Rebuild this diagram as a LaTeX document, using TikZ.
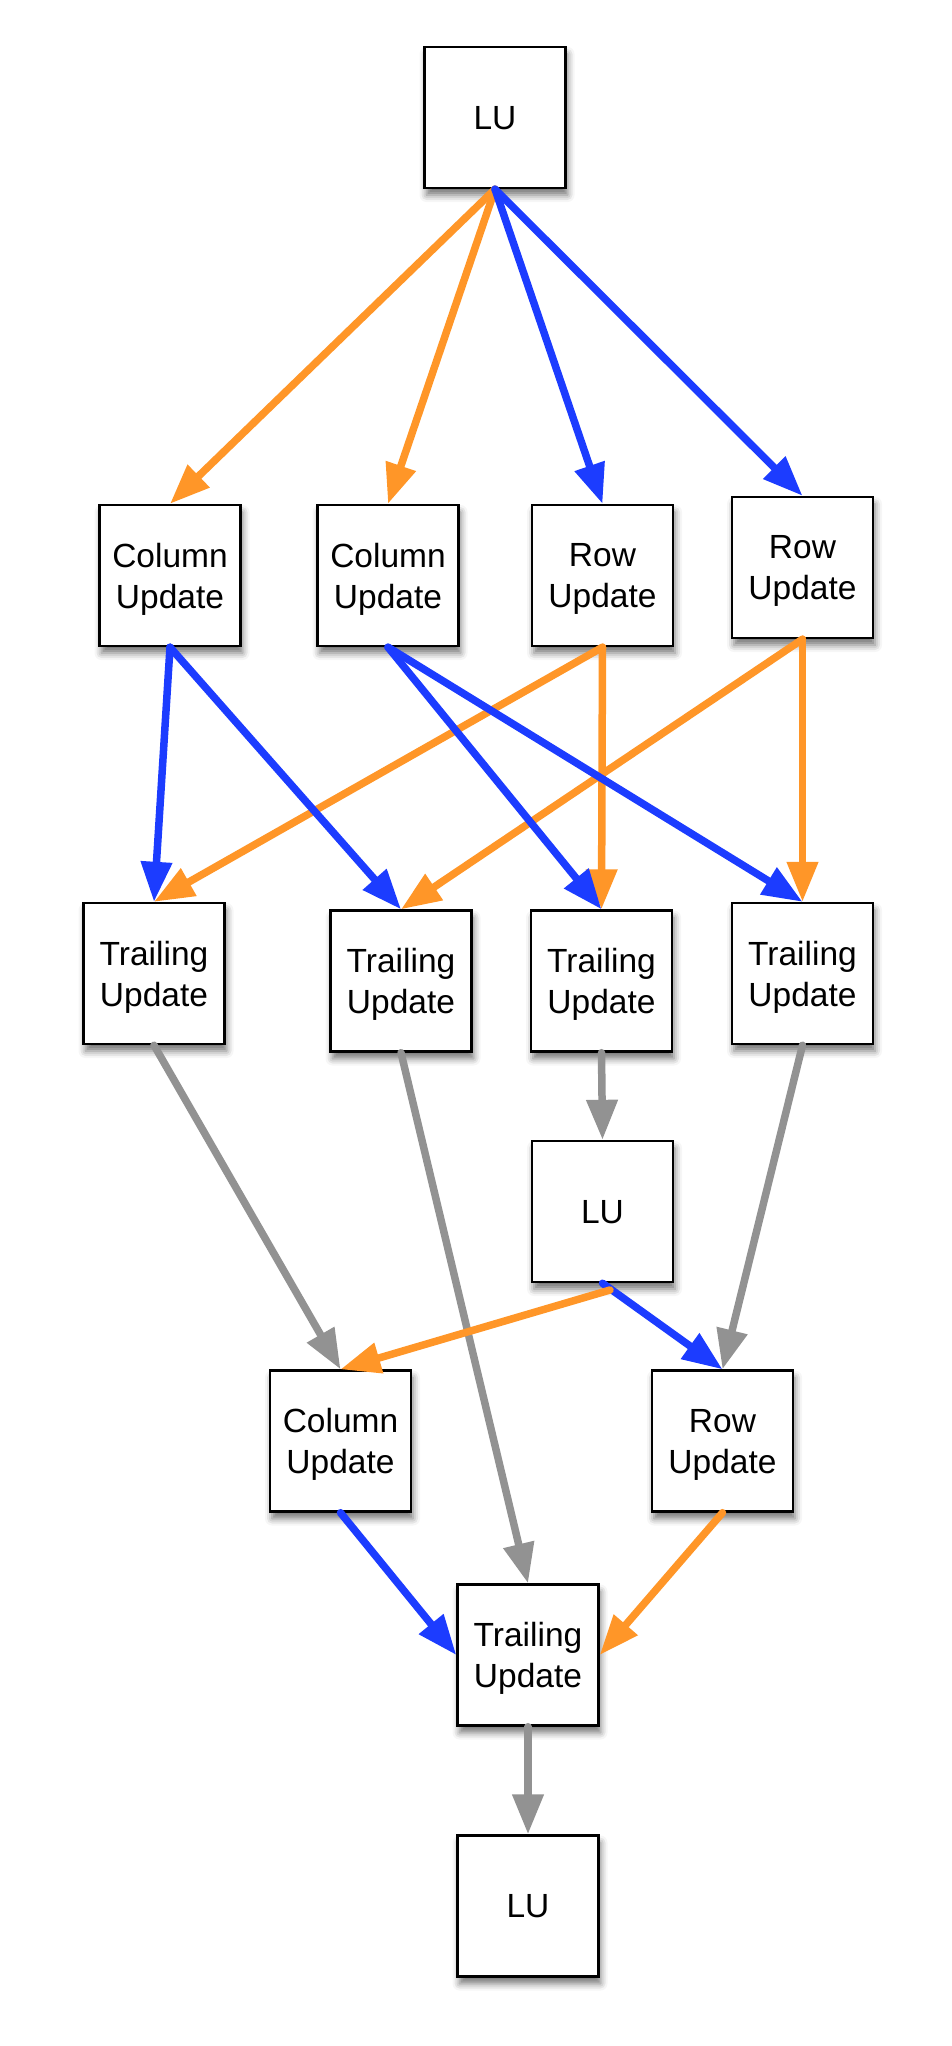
\documentclass[tikz,border=0pt]{standalone}
\usepackage{fontspec}
\setmainfont{Liberation Sans}
\usetikzlibrary{arrows.meta,shadows.blur}
\definecolor{og}{RGB}{255,150,40}
\definecolor{bl}{RGB}{28,60,255}
\definecolor{gr}{RGB}{146,146,146}
\begin{document}
\begin{tikzpicture}[x=1pt,y=-1pt,
  box/.style={draw=black, line width=2.4pt, fill=white, minimum width=141pt, minimum height=141pt,
    inner sep=0pt, align=center, font=\fontsize{33.5}{41}\selectfont, text depth=0pt,
    blur shadow={shadow xshift=2pt, shadow yshift=-7pt, shadow blur radius=7pt, shadow opacity=55}},
  conn/.style={line width=7.5pt, line cap=round, -{Triangle[length=40pt,width=30pt]}},
  oc/.style={conn, draw=og},
  bc/.style={conn, draw=bl},
  gc/.style={conn, draw=gr}]
\useasboundingbox (0,0) rectangle (952,2046);
% nodes
\node[box] (lu1) at (495,117.5) {LU};
\node[box] (cu1) at (170,575.5) {Column\\Update};
\node[box] (cu2) at (388,575.5) {Column\\Update};
\node[box] (ru1) at (602.5,575.5) {Row\\Update};
\node[box] (ru2) at (802.5,567.5) {Row\\Update};
\node[box] (tu1) at (154,973.5) {Trailing\\Update};
\node[box] (tu2) at (401,981) {Trailing\\Update};
\node[box] (tu3) at (601.5,981) {Trailing\\Update};
\node[box] (tu4) at (802.5,973.5) {Trailing\\Update};
\node[box] (lu2) at (602.5,1211.5) {LU};
\node[box] (cu3) at (340.5,1441) {Column\\Update};
\node[box] (ru3) at (722.5,1441) {Row\\Update};
\node[box] (tu5) at (528,1655) {Trailing\\Update};
\node[box] (lu3) at (528,1906) {LU};
\coordinate (lu2o) at (610,1290);
% gray connectors
\draw[gc] (tu1.south) -- (cu3.north);
\draw[gc] (tu2.south) -- (tu5.north);
\draw[gc] (tu3.south) -- (lu2.north);
\draw[gc] (tu4.south) -- (ru3.north);
\draw[gc] (tu5.south) -- (lu3.north);
% from top LU
\draw[oc] (lu1.south) -- (cu1.north);
\draw[oc] (lu1.south) -- (cu2.north);
\draw[bc] (lu1.south) -- (ru1.north);
\draw[bc] (lu1.south) -- (ru2.north);
% row 2 to row 3
\draw[oc] (ru1.south) -- (tu1.north);
\draw[oc] (ru1.south) -- (tu3.north);
\draw[oc] (ru2.south) -- (tu2.north);
\draw[oc] (ru2.south) -- (tu4.north);
\draw[bc] (cu1.south) -- (tu1.north);
\draw[bc] (cu1.south) -- (tu2.north);
\draw[bc] (cu2.south) -- (tu3.north);
\draw[bc] (cu2.south) -- (tu4.north);
% second LU
\draw[bc] (lu2.south) -- (ru3.north);
\draw[oc] (lu2o) -- (cu3.north);
\draw[bc] (cu3.south) -- (tu5.west);
\draw[oc] (ru3.south) -- (tu5.east);
\end{tikzpicture}
\end{document}
